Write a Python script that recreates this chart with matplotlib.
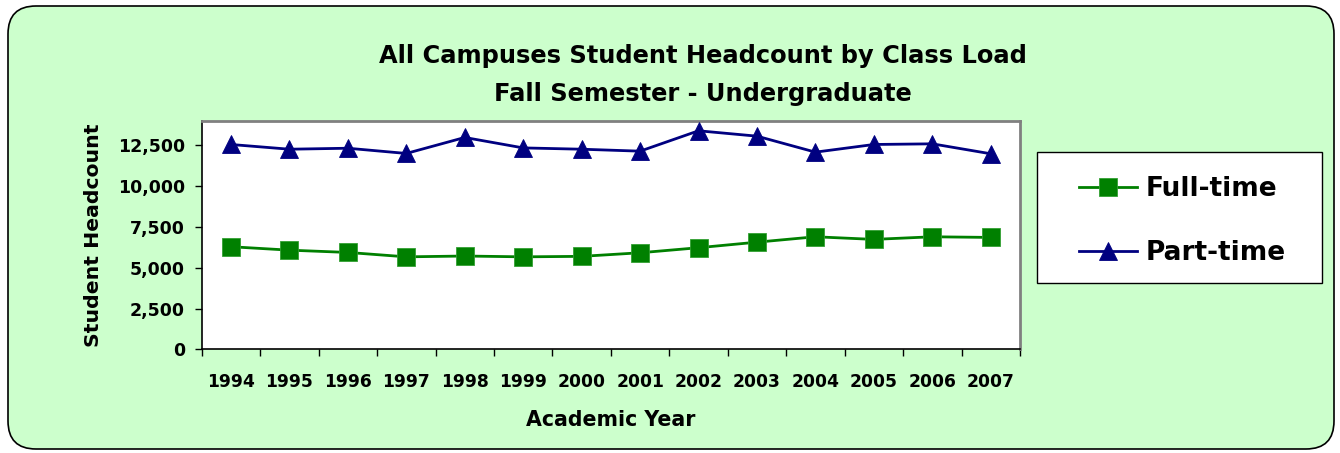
import matplotlib
matplotlib.use("Agg")
import matplotlib.pyplot as plt
from matplotlib.patches import FancyBboxPatch, Rectangle
from matplotlib.ticker import FuncFormatter, FixedLocator
import numpy as np

years = ["1994", "1995", "1996", "1997", "1998", "1999", "2000",
         "2001", "2002", "2003", "2004", "2005", "2006", "2007"]
full_time = [6290, 6080, 5940, 5670, 5720, 5670, 5700,
             5920, 6230, 6570, 6900, 6740, 6900, 6860]
part_time = [12560, 12270, 12330, 12010, 12990, 12350, 12270,
             12150, 13400, 13070, 12090, 12560, 12600, 11990]
y_ticks = [0, 2500, 5000, 7500, 10000, 12500]

W, H = 1340, 453
FONT = "DejaVu Sans"
plt.rcParams['font.family'] = [FONT]

fig = plt.figure(figsize=(W / 100, H / 100), dpi=100)
fig.patch.set_facecolor("white")

# background rounded panel (pixel coordinates)
bg = fig.add_axes([0, 0, 1, 1], zorder=-5)
bg.set_xlim(0, W)
bg.set_ylim(H, 0)
bg.axis("off")
bg.add_patch(FancyBboxPatch((8, 6), W - 14, H - 10,
                            boxstyle="round,pad=0,rounding_size=28",
                            facecolor="#CCFFCC", edgecolor="black", linewidth=1.2))
# legend frame
bg.add_patch(Rectangle((1036.7, 152.3), 285, 131, facecolor="white",
                       edgecolor="black", linewidth=1.0))

def px(x0, y0, x1, y1):
    return [x0 / W, 1 - y1 / H, (x1 - x0) / W, (y1 - y0) / H]

ax = fig.add_axes(px(201.7, 121, 1020, 349.3))
ax.set_facecolor("white")
x = np.arange(len(years))
ax.plot(x, full_time, color="#008000", lw=2.0, marker="s", ms=12.5,
        markerfacecolor="#008000", markeredgecolor="#33A033", markeredgewidth=0.6,
        label="Full-time", zorder=3)
ax.plot(x, part_time, color="#000080", lw=2.0, marker="^", ms=12.5,
        markerfacecolor="#000080", markeredgecolor="#000080", markeredgewidth=0.6,
        label="Part-time", zorder=3)

ax.set_xlim(-0.5, len(years) - 0.5)
ax.set_ylim(0, 14000)
ax.set_yticks(y_ticks)
ax.yaxis.set_major_formatter(FuncFormatter(lambda v, p: f"{int(v):,}"))
ax.xaxis.set_major_locator(FixedLocator(np.arange(-0.5, len(years), 1.0)))
ax.xaxis.set_minor_locator(FixedLocator(x))
ax.set_xticklabels([], minor=False)
ax.set_xticklabels(years, minor=True)
ax.tick_params(axis="x", which="major", length=5, width=1, direction="out", color="black")
ax.tick_params(axis="x", which="minor", length=0, pad=17, labelsize=12.3)
ax.tick_params(axis="y", length=5, width=1, direction="out", pad=7, labelsize=12.5)
for lbl in ax.get_xticklabels(minor=True) + ax.get_yticklabels():
    lbl.set_fontweight("bold")

for s in ["left", "bottom"]:
    ax.spines[s].set_color("black")
    ax.spines[s].set_linewidth(1.2)
for s in ["top", "right"]:
    ax.spines[s].set_color("#808080")
    ax.spines[s].set_linewidth(2)

ax.set_ylabel("Student Headcount", fontsize=14.7, fontweight="bold", labelpad=11)
ax.set_xlabel("Academic Year", fontsize=14.8, fontweight="bold", labelpad=14)

fig.text(703 / W, 1 - 56 / H, "All Campuses Student Headcount by Class Load",
         ha="center", va="center", fontsize=17.4, fontweight="bold")
fig.text(703 / W, 1 - 94 / H, "Fall Semester - Undergraduate",
         ha="center", va="center", fontsize=17.4, fontweight="bold")

leg = fig.legend(loc="center left", bbox_to_anchor=(1079 / W, 1 - 221.2 / H),
                 prop={"weight": "bold", "size": 19}, frameon=False,
                 handlelength=2.2, labelspacing=1.44, borderpad=0, handletextpad=0.34,
                 borderaxespad=0)

fig.savefig("out.png", dpi=100, facecolor="white")
